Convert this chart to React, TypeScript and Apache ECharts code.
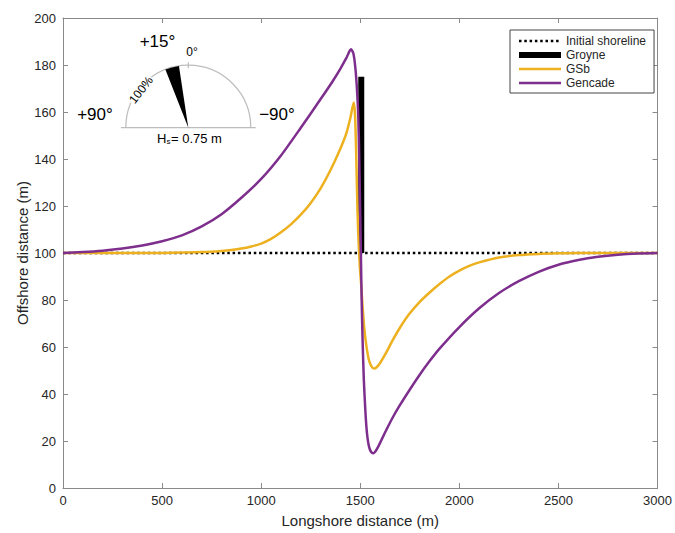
import React, { useEffect, useRef } from "react";
import * as echarts from "echarts";

const xTicks = { min: 0, max: 3000, interval: 500 };
const yTicks = { min: 0, max: 200, interval: 20 };

const shorelineX = [0, 3000];
const shorelineY = [100, 100];

const groyneX = [1505, 1505];
const groyneY = [100, 175];

const gsbX = [0, 200, 400, 500, 600, 700, 800, 850, 900, 950, 1000, 1050, 1100, 1150, 1200, 1250, 1300, 1350, 1400, 1430, 1450, 1467, 1474, 1480, 1486, 1492, 1498, 1505, 1512, 1520, 1530, 1542, 1555, 1570, 1585, 1600, 1630, 1663, 1700, 1747, 1800, 1850, 1900, 1950, 2000, 2050, 2100, 2200, 2300, 2400, 2500, 2600, 2800, 3000];
const gsbY = [100, 100, 100, 100.05, 100.2, 100.4, 100.9, 101.3, 101.9, 102.8, 104, 106, 108.8, 112.2, 116.3, 121.3, 127.5, 135.3, 144.5, 151, 157.5, 164, 158, 140, 118, 104, 94, 86, 77, 68, 61, 55, 52, 50.8, 51.6, 53.2, 57.5, 62.8, 68.2, 74, 79.2, 83.2, 86.8, 90, 92.5, 94.5, 96, 98.1, 99.1, 99.6, 99.85, 100, 100, 100];

const gencadeX = [0, 100, 200, 300, 400, 500, 600, 700, 800, 900, 1000, 1100, 1200, 1300, 1360, 1400, 1430, 1453, 1465, 1475, 1483, 1490, 1495, 1499, 1503, 1507, 1512, 1518, 1525, 1531, 1537, 1545, 1555, 1565, 1575, 1590, 1609, 1635, 1663, 1696, 1747, 1800, 1850, 1900, 2000, 2100, 2200, 2300, 2400, 2500, 2600, 2700, 2800, 2900, 3000];
const gencadeY = [100, 100.4, 101, 101.9, 103.2, 105, 107.5, 111.3, 116.5, 123.5, 131.5, 141.5, 153.3, 165.5, 173, 178.5, 183, 186.7, 185, 179, 170, 158, 140, 120, 100, 80, 62, 46, 34, 26, 21, 17.3, 15.3, 14.8, 15.4, 17.5, 20.8, 25.3, 29.9, 34.7, 41.5, 48.2, 54, 59.3, 68.5, 76.5, 83, 88, 92, 95, 97, 98.4, 99.3, 99.8, 100];

const seriesNames = ["Initial shoreline", "Groyne", "GSb", "Gencade"];

const pairs = (xs: number[], ys: number[]) => xs.map((x, i) => [x, ys[i]]);

const FONT = "'Liberation Sans', Arial, Helvetica, sans-serif";
const AXIS_GREY = "#8a8a8a";
const TEXT = "#262626";

export default function App() {
  const ref = useRef<HTMLDivElement>(null);
  useEffect(() => {
    if (!ref.current) return;
    const chart = echarts.init(ref.current, undefined, { renderer: "svg" });
    const cx = 188.3;
    const cy = 127.7;
    const r = 62.5;
    const deg = Math.PI / 180;
    const plainLabel = (v: number) => String(v);
    chart.setOption({
      animation: false,
      backgroundColor: "#ffffff",
      textStyle: { fontFamily: FONT },
      grid: { left: 63, right: 16, top: 18, bottom: 43, containLabel: false },
      legend: {
        data: seriesNames.map((n) =>
          n === "Groyne"
            ? { name: n, lineStyle: { width: 6 } }
            : { name: n, lineStyle: { width: 2.5 } }
        ),
        orient: "vertical",
        left: 510,
        top: 30,
        itemWidth: 42,
        itemHeight: 10,
        itemGap: 2,
        padding: [5, 8, 4, 6],
        borderColor: "#444",
        borderWidth: 1,
        backgroundColor: "#fff",
        itemStyle: { opacity: 0 },
        textStyle: { fontSize: 12, color: TEXT, fontFamily: FONT },
      },
      xAxis: [
        {
          type: "value",
          ...xTicks,
          name: "Longshore distance (m)",
          nameLocation: "middle",
          nameGap: 25,
          nameMoveOverlap: false,
          nameTextStyle: { fontSize: 15, color: TEXT, fontFamily: FONT },
          axisLine: { show: true, lineStyle: { color: AXIS_GREY, width: 1 } },
          axisTick: { show: true, inside: true, length: 5, lineStyle: { color: AXIS_GREY } },
          axisLabel: { fontSize: 13, color: TEXT, margin: 6, fontFamily: FONT, formatter: plainLabel },
          splitLine: { show: false },
        },
        {
          type: "value",
          ...xTicks,
          position: "top",
          axisLine: { show: true, onZero: false, lineStyle: { color: AXIS_GREY, width: 1 } },
          axisTick: { show: true, inside: true, length: 5, lineStyle: { color: AXIS_GREY } },
          axisLabel: { show: false },
          splitLine: { show: false },
        },
      ],
      yAxis: [
        {
          type: "value",
          ...yTicks,
          name: "Offshore distance (m)",
          nameLocation: "middle",
          nameGap: 33,
          nameMoveOverlap: false,
          nameTextStyle: { fontSize: 15, color: TEXT, fontFamily: FONT },
          axisLine: { show: true, lineStyle: { color: AXIS_GREY, width: 1 } },
          axisTick: { show: true, inside: true, length: 5, lineStyle: { color: AXIS_GREY } },
          axisLabel: { fontSize: 13, color: TEXT, margin: 7, fontFamily: FONT, formatter: plainLabel },
          splitLine: { show: false },
        },
        {
          type: "value",
          ...yTicks,
          position: "right",
          axisLine: { show: true, onZero: false, lineStyle: { color: AXIS_GREY, width: 1 } },
          axisTick: { show: true, inside: true, length: 5, lineStyle: { color: AXIS_GREY } },
          axisLabel: { show: false },
          splitLine: { show: false },
        },
      ],
      series: [
        {
          name: seriesNames[0],
          type: "line",
          data: pairs(shorelineX, shorelineY),
          showSymbol: false,
          symbol: "none",
          color: "#000",
          lineStyle: { color: "#000", width: 2.5, type: [2.5, 2.8] },
          z: 2,
        },
        {
          name: seriesNames[1],
          type: "line",
          data: pairs(groyneX, groyneY),
          showSymbol: false,
          symbol: "none",
          color: "#000",
          lineStyle: { color: "#000", width: 6, cap: "butt" },
          z: 3,
        },
        {
          name: seriesNames[2],
          type: "line",
          data: pairs(gsbX, gsbY),
          showSymbol: false,
          symbol: "none",
          smooth: 0.25,
          color: "#EDB120",
          lineStyle: { color: "#EDB120", width: 2.5, join: "round" },
          z: 4,
        },
        {
          name: seriesNames[3],
          type: "line",
          data: pairs(gencadeX, gencadeY),
          showSymbol: false,
          symbol: "none",
          smooth: 0.25,
          color: "#7E2F8E",
          lineStyle: { color: "#7E2F8E", width: 2.5, join: "round" },
          z: 5,
        },
      ],
      graphic: [
        {
          type: "arc",
          shape: { cx, cy, r, startAngle: Math.PI, endAngle: 2 * Math.PI, clockwise: true },
          style: { stroke: "#bdbdbd", lineWidth: 1.2, fill: null },
          z: 10,
        },
        {
          type: "line",
          shape: { x1: 121, y1: cy, x2: 255.7, y2: cy },
          style: { stroke: "#bdbdbd", lineWidth: 1.2 },
          z: 10,
        },
        {
          type: "line",
          shape: { x1: cx, y1: cy - r - 3, x2: cx, y2: cy - r + 3 },
          style: { stroke: "#bdbdbd", lineWidth: 1.2 },
          z: 10,
        },
        {
          type: "sector",
          shape: { cx, cy, r0: 0, r: r, startAngle: -111.5 * deg, endAngle: -98.6 * deg, clockwise: true },
          style: { fill: "#000" },
          z: 11,
        },
        {
          type: "text",
          x: 157.5,
          y: 41,
          style: { text: "+15°", fontSize: 17, fontFamily: FONT, fill: "#000", align: "center", verticalAlign: "middle" },
          z: 12,
        },
        {
          type: "text",
          x: 95,
          y: 114.5,
          style: { text: "+90°", fontSize: 17, fontFamily: FONT, fill: "#000", align: "center", verticalAlign: "middle" },
          z: 12,
        },
        {
          type: "text",
          x: 277,
          y: 114.5,
          style: { text: "\u221290°", fontSize: 17, fontFamily: FONT, fill: "#000", align: "center", verticalAlign: "middle" },
          z: 12,
        },
        {
          type: "text",
          x: 192,
          y: 52,
          style: { text: "0°", fontSize: 12, fontFamily: FONT, fill: "#000", align: "center", verticalAlign: "middle" },
          z: 12,
        },
        {
          type: "text",
          x: 141,
          y: 90,
          rotation: 52 * deg,
          style: {
            text: "100%",
            fontSize: 12,
            fontFamily: FONT,
            fill: "#000",
            align: "center",
            verticalAlign: "middle",
            backgroundColor: "#fff",
            padding: [0, 1],
          },
          z: 12,
        },
        {
          type: "text",
          x: 157,
          y: 138,
          style: { text: "H", fontSize: 13, fontFamily: FONT, fill: "#000", align: "left", verticalAlign: "middle" },
          z: 12,
        },
        {
          type: "text",
          x: 166.5,
          y: 141.5,
          style: { text: "s", fontSize: 8, fontFamily: FONT, fill: "#000", align: "left", verticalAlign: "middle" },
          z: 12,
        },
        {
          type: "text",
          x: 171,
          y: 138,
          style: { text: "= 0.75 m", fontSize: 13, fontFamily: FONT, fill: "#000", align: "left", verticalAlign: "middle" },
          z: 12,
        },
      ],
    });
    return () => chart.dispose();
  }, []);
  return (
    <div
      ref={ref}
      style={{ position: "fixed", left: 0, top: 0, width: 675, height: 533, background: "#fff" }}
    />
  );
}
